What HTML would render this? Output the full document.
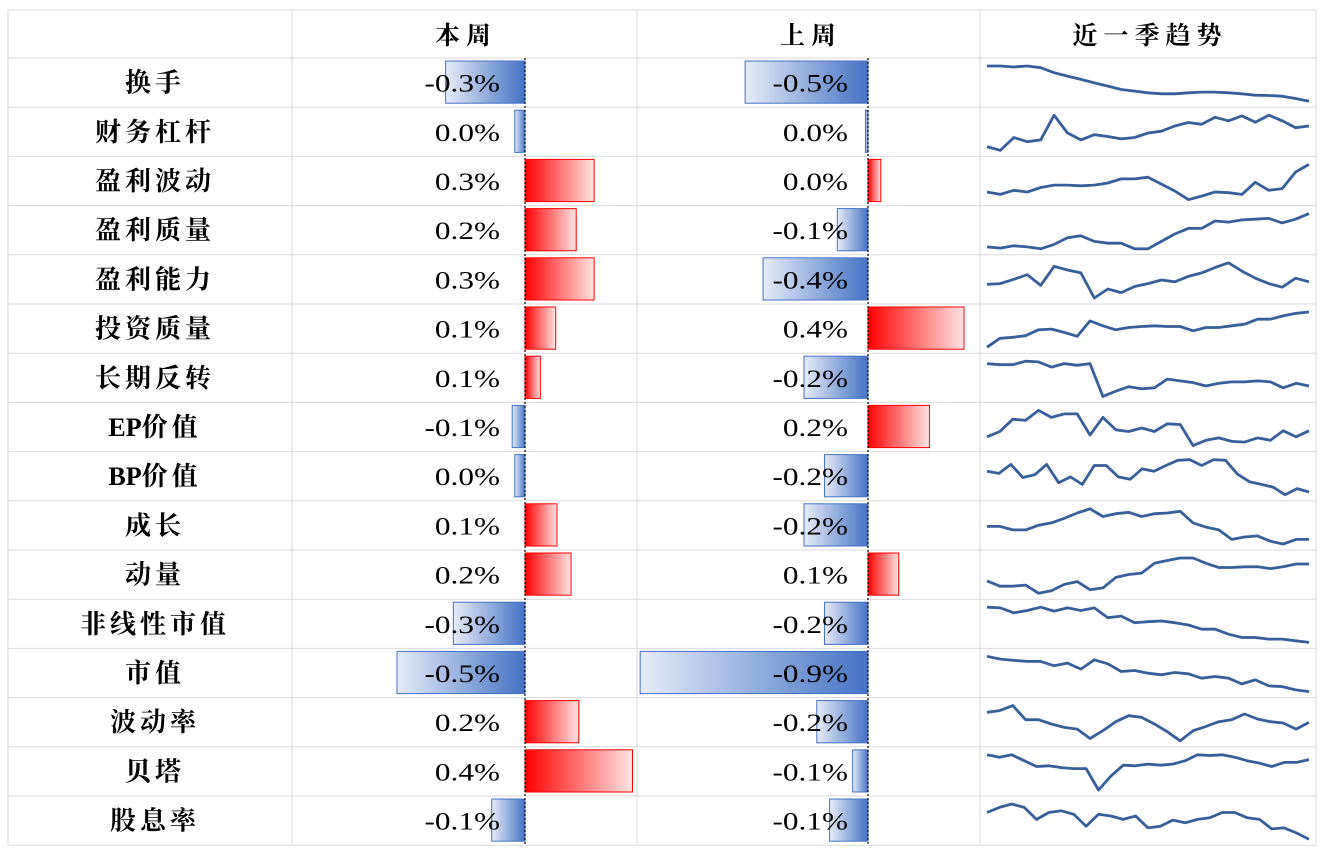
<!DOCTYPE html>
<html><head><meta charset="utf-8">
<style>
html,body{margin:0;padding:0;background:#fff;}
svg{display:block;}
</style></head>
<body>
<svg id="chart" width="1323" height="852" xmlns="http://www.w3.org/2000/svg">
<defs>
<linearGradient id="gRed" x1="0" x2="1" y1="0" y2="0"><stop offset="0" stop-color="#ff0000"/><stop offset="1" stop-color="#ffe4e4"/></linearGradient>
<linearGradient id="gBlue" x1="0" x2="1" y1="0" y2="0"><stop offset="0" stop-color="#e6ecf7"/><stop offset="1" stop-color="#4472c4"/></linearGradient>
</defs>
</svg>
<script>
const factors = ["换手","财务杠杆","盈利波动","盈利质量","盈利能力","投资质量","长期反转","EP价值","BP价值","成长","动量","非线性市值","市值","波动率","贝塔","股息率"];
const thisWeek = [-0.31,-0.04,0.27,0.2,0.27,0.12,0.06,-0.05,-0.04,0.125,0.18,-0.28,-0.5,0.21,0.42,-0.13];
const thisWeekLabels = ["-0.3%","0.0%","0.3%","0.2%","0.3%","0.1%","0.1%","-0.1%","0.0%","0.1%","0.2%","-0.3%","-0.5%","0.2%","0.4%","-0.1%"];
const lastWeek = [-0.48,-0.01,0.05,-0.12,-0.41,0.375,-0.25,0.24,-0.17,-0.25,0.12,-0.17,-0.89,-0.2,-0.06,-0.15];
const lastWeekLabels = ["-0.5%","0.0%","0.0%","-0.1%","-0.4%","0.4%","-0.2%","0.2%","-0.2%","-0.2%","0.1%","-0.2%","-0.9%","-0.2%","-0.1%","-0.1%"];
const trendTurnover = [115,115,112,115,110,95,85,75,65,55,45,40,35,32,32,35,37,37,35,32,28,27,25,18,10];
const trendLeverage = [26,15,52,40,45,116,65,45,60,55,48,52,65,70,85,95,90,110,100,114,96,116,100,80,85];
const trendEarnVol = [38,31,43,38,51,58,58,56,58,64,76,76,81,61,41,16,26,38,36,31,66,43,48,96,118];
const trendEarnQual = [25,22,28,25,20,32,50,55,40,35,35,20,20,40,60,75,75,95,92,98,100,102,90,100,115];
const trendProfit = [58,60,72,85,55,108,98,90,20,45,35,52,60,70,65,80,90,105,118,95,75,60,50,75,65];
const trendInvest = [13,40,43,48,66,68,58,46,93,78,66,73,76,78,76,76,63,73,73,78,83,98,98,108,116,120];
const trendReversal = [111,108,108,118,116,101,111,106,111,16,31,44,38,41,66,61,56,46,54,58,58,61,58,41,54,46];
const trendEP = [35,50,85,82,110,90,100,100,40,90,55,50,60,50,72,70,10,25,32,22,20,32,25,52,35,52];
const trendBP = [78,72,98,60,68,98,45,62,40,95,95,62,55,85,78,95,110,112,95,112,110,70,48,40,32,10,28,18];
const trendGrowth = [60,60,50,50,63,70,83,98,110,88,96,100,88,96,98,103,70,58,50,23,30,33,18,10,23,23];
const trendMomentum = [46,31,31,34,11,18,36,44,21,26,56,64,68,96,104,111,111,96,84,84,86,86,81,86,94,94];
const trendNLSize = [112,110,95,102,112,100,110,102,110,80,85,65,68,70,65,58,45,45,30,20,20,15,15,10,5];
const trendSize = [115,107,103,100,100,87,95,77,105,93,70,73,65,60,67,63,50,55,50,33,45,27,25,15,10];
const trendVolatility = [92,97,112,70,70,57,47,42,14,37,64,82,77,57,34,7,37,50,64,70,87,72,64,60,42,62];
const trendBeta = [112,105,112,95,78,80,75,72,72,10,50,82,80,85,82,85,95,112,110,112,105,95,88,78,90,90,98];
const trendDividend = [88,103,113,103,68,88,93,83,48,83,78,68,78,43,48,66,58,68,73,88,88,73,68,40,43,28,10];
const trends = [trendTurnover,trendLeverage,trendEarnVol,trendEarnQual,trendProfit,trendInvest,trendReversal,trendEP,trendBP,trendGrowth,trendMomentum,trendNLSize,trendSize,trendVolatility,trendBeta,trendDividend];

const svg = document.getElementById('chart');
const NS = 'http://www.w3.org/2000/svg';
function mk(tag, attrs, parent){const e=document.createElementNS(NS,tag);for(const k in attrs)e.setAttribute(k,attrs[k]);(parent||svg).appendChild(e);return e;}

const top0=10, headH=48, rowH=49.2, left=8, right=1316;
const colX=[8,292,637,980,1316];
const zero1=525, zero2=868, pxPerPct=256;
const bottom = top0+headH+rowH*factors.length;
const rowY = i => top0+headH+rowH*i;
const barX = (z,v) => z + v*pxPerPct;
const cjkFont = '"Liberation Serif","Noto Serif CJK SC",serif';

const grid = mk('g',{});


for(let i=0;i<=factors.length+1;i++){
  const y = i===0?top0:rowY(i-1);
  mk('line',{x1:left,x2:right,y1:y,y2:y,stroke:'#d9d9d9','stroke-width':1},grid);
}
colX.forEach(x=>mk('line',{x1:x,x2:x,y1:top0,y2:bottom,stroke:'#d9d9d9','stroke-width':1},grid));

const heads=[["本周",463,'header-this-week'],["上周",808,'header-last-week'],["近一季趋势",1147,'header-trend']];
heads.forEach(h=>{
  const t=mk('text',{x:h[1]+3,y:top0+34,'text-anchor':'middle','font-size':25,'letter-spacing':6,'font-weight':'bold','font-family':cjkFont,fill:'#000'});
  t.textContent=h[0];
  
  
});

function drawBar(z,v,y,name){
  const x0=Math.min(z,barX(z,v)), w=Math.abs(barX(z,v)-z);
  const r=mk('rect',{x:x0,y:y+3,width:Math.max(w,2),height:rowH-7,fill:v>=0?'url(#gRed)':'url(#gBlue)',stroke:v>=0?'#ff0000':'#4472c4','stroke-width':1});
  
  
}
function drawLabel(x,txt,y,name){
  const t=mk('text',{x:x,y:y+rowH/2+9,'text-anchor':'end','font-size':25,'font-family':'"Liberation Serif",serif',fill:'#000'});
  t.textContent=txt;
  
  
  try{
    const L=t.getComputedTextLength();
    if(L>0){t.setAttribute('textLength',(L*1.25).toFixed(1));t.setAttribute('lengthAdjust','spacingAndGlyphs');}
  }catch(e){}
}

factors.forEach((f,i)=>{
  const y=rowY(i);
  const t=mk('text',{x:153+2,y:y+rowH/2+9,'text-anchor':'middle','font-size':26,'font-weight':'bold','font-family':cjkFont,fill:'#000'});
  
  
  const m=f.match(/^([A-Z]*)(.*)$/);
  if(m[1]){const a=mk('tspan',{},t);a.textContent=m[1];}
  const b=mk('tspan',{'letter-spacing':4},t);b.textContent=m[2];
  drawBar(zero1,thisWeek[i],y,'this-week-bar');
  drawBar(zero2,lastWeek[i],y,'last-week-bar');
  drawLabel(500,thisWeekLabels[i],y,'this-week-value');
  drawLabel(848,lastWeekLabels[i],y,'last-week-value');
  const d=trends[i], mn=Math.min(...d), mx=Math.max(...d);
  const xs=k=>987+k*(1309-987)/(d.length-1);
  const ys=v=>(y+rowH-6)-(v-mn)/(mx-mn||1)*(rowH-14);
  const p=mk('polyline',{points:d.map((v,k)=>xs(k).toFixed(1)+','+ys(v).toFixed(1)).join(' '),fill:'none',stroke:'#365f9c','stroke-width':2.8,'stroke-linejoin':'round'});
  
  
});

[zero1,zero2].forEach(z=>{
  const l=mk('line',{x1:z,x2:z,y1:top0+headH,y2:bottom,stroke:'#000','stroke-width':1.2,'stroke-dasharray':'2,2'});
  
  
});
</script>
</body></html>
